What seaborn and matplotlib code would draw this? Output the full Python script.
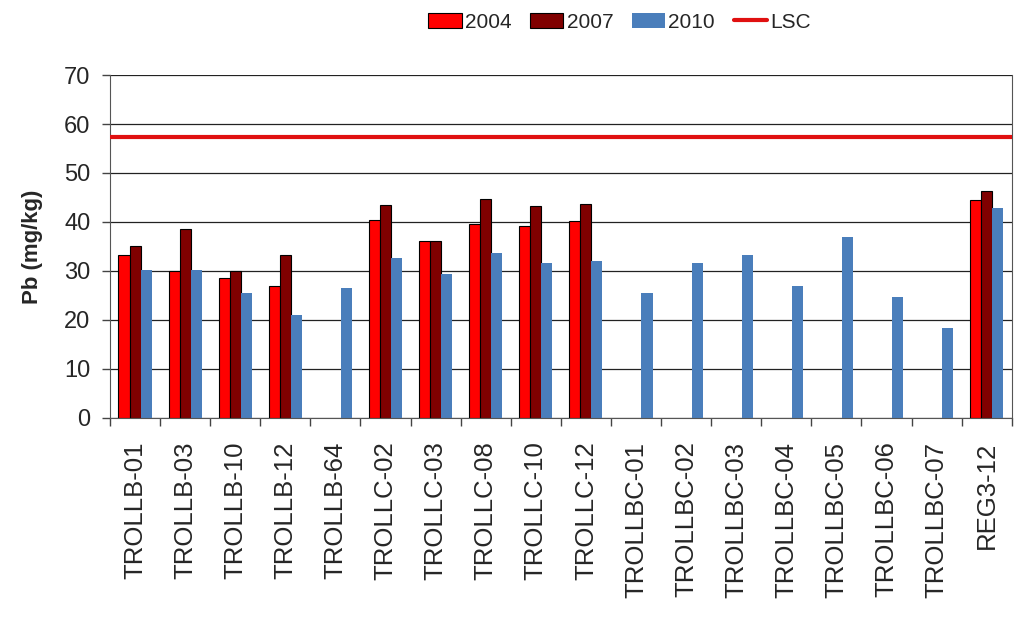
import matplotlib
matplotlib.use("Agg")
import matplotlib.pyplot as plt
import seaborn as sns
import pandas as pd
import numpy as np
from matplotlib.patches import Patch
from matplotlib.lines import Line2D
from matplotlib.ticker import FixedLocator

sites = ["TROLLB-01", "TROLLB-03", "TROLLB-10", "TROLLB-12", "TROLLB-64",
         "TROLLC-02", "TROLLC-03", "TROLLC-08", "TROLLC-10", "TROLLC-12",
         "TROLLBC-01", "TROLLBC-02", "TROLLBC-03", "TROLLBC-04", "TROLLBC-05",
         "TROLLBC-06", "TROLLBC-07", "REG3-12"]
v2004 = [33.2, 29.9, 28.5, 27.0, None, 40.5, 36.2, 39.6, 39.2, 40.3,
         None, None, None, None, None, None, None, 44.5]
v2007 = [35.0, 38.6, 29.9, 33.3, None, 43.4, 36.1, 44.7, 43.3, 43.6,
         None, None, None, None, None, None, None, 46.3]
v2010 = [30.1, 30.1, 25.6, 21.1, 26.5, 32.6, 29.4, 33.7, 31.6, 32.1,
         25.5, 31.7, 33.3, 26.9, 36.9, 24.6, 18.3, 42.9]
years = ["2004", "2007", "2010"]
LSC = 57.3
yticks = [0, 10, 20, 30, 40, 50, 60, 70]

rows = []
for yr, vals in zip(years, [v2004, v2007, v2010]):
    for s, v in zip(sites, vals):
        if v is not None:
            rows.append({"site": s, "year": yr, "value": v})
df = pd.DataFrame(rows)

sns.set_style("white")
plt.rcParams["font.family"] = ["Liberation Sans", "DejaVu Sans"]

colors = {"2004": "#FF0000", "2007": "#800000", "2010": "#4A7EBB"}

fig = plt.figure(figsize=(10.24, 6.33), dpi=100)
ax = fig.add_axes([0.1074, 0.3397, 0.8806, 0.5418])

sns.barplot(data=df, x="site", y="value", hue="year", order=sites,
            hue_order=years, palette=colors, width=0.66, errorbar=None,
            ax=ax, legend=False, saturation=1)

for i, cont in enumerate(ax.containers):
    for p in cont:
        if years[i] in ("2004", "2007"):
            p.set_edgecolor("black")
            p.set_linewidth(0.8)
        else:
            p.set_linewidth(0)

ax.axhline(LSC, color="#E01010", lw=3, zorder=5)

ax.set_ylim(0, 70)
ax.set_xlim(-0.5, len(sites) - 0.5)
ax.set_yticks(yticks)
ax.yaxis.grid(True, color="#222222", lw=0.9)
ax.set_axisbelow(True)

ax.set_xticks(range(len(sites)))
ax.set_xticklabels(sites, rotation=90, fontsize=18.5, va="top")
ax.tick_params(axis="x", which="major", length=0, pad=17)
ax.xaxis.set_minor_locator(FixedLocator(np.arange(-0.5, len(sites) + 0.5, 1)))
ax.tick_params(axis="x", which="minor", length=6, width=1, color="#444444", direction="out", bottom=True)
ax.tick_params(axis="y", labelsize=17, length=6, width=1, color="#444444", direction="out", left=True, pad=8)

for side in ["top", "right", "left", "bottom"]:
    ax.spines[side].set_visible(True)
    ax.spines[side].set_color("#555555")
ax.spines["top"].set_visible(False)

ax.set_xlabel("")
ax.set_ylabel("Pb (mg/kg)", fontsize=16, fontweight="bold", labelpad=15)

handles = [Patch(facecolor=colors["2004"], edgecolor="black", lw=0.8),
           Patch(facecolor=colors["2007"], edgecolor="black", lw=0.8),
           Patch(facecolor=colors["2010"], edgecolor="none"),
           Line2D([0], [0], color="#E01010", lw=3)]
fig.legend(handles, ["2004", "2007", "2010", "LSC"], loc="center",
           bbox_to_anchor=(0.605, 0.965), ncol=4, frameon=False, fontsize=15,
           handlelength=1.6, handleheight=0.7, handletextpad=0.15, columnspacing=0.9)

fig.savefig("out.png", dpi=100)
